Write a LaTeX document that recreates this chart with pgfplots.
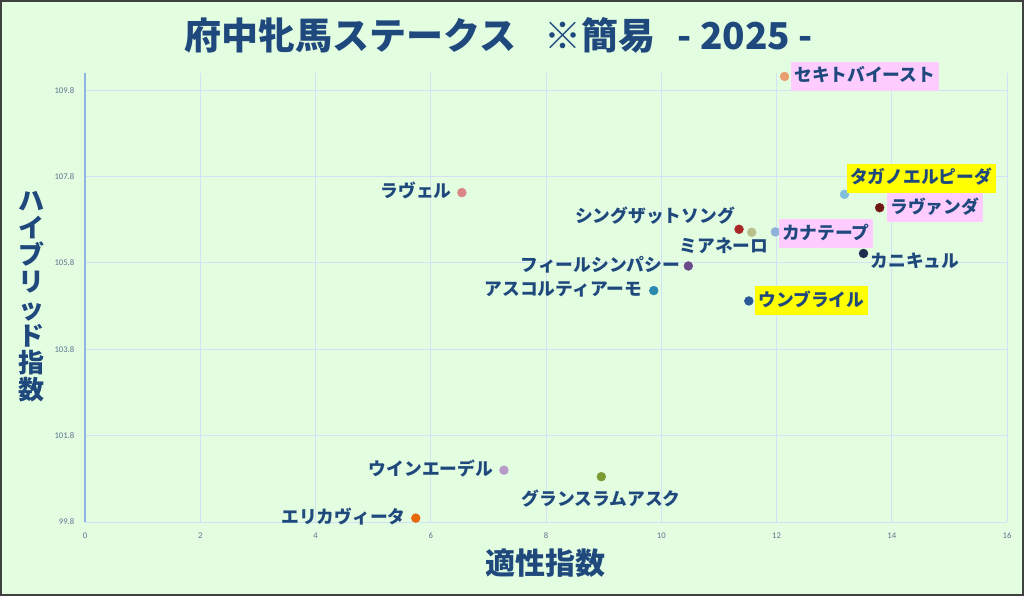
\documentclass[border=0pt]{standalone}
\usepackage{fontspec}
\setmainfont{Noto Sans CJK JP}
\newfontfamily\tickfont{Carlito}
\usepackage{pgfplots}
\pgfplotsset{compat=1.18}

\definecolor{bg}{RGB}{227,253,225}
\definecolor{frame}{RGB}{64,64,64}
\definecolor{gridc}{RGB}{210,225,245}
\definecolor{yaxis}{RGB}{141,180,226}
\definecolor{txt}{RGB}{31,73,125}
\definecolor{tick}{RGB}{95,115,145}
\definecolor{pinkbg}{RGB}{255,204,255}
\definecolor{yelbg}{RGB}{255,255,0}
% dot colours
\definecolor{cSeki}{RGB}{232,160,112}
\definecolor{cTaga}{RGB}{128,192,221}
\definecolor{cLavanda}{RGB}{112,24,24}
\definecolor{cSing}{RGB}{168,40,40}
\definecolor{cMia}{RGB}{185,192,140}
\definecolor{cKana}{RGB}{143,178,218}
\definecolor{cKani}{RGB}{30,45,78}
\definecolor{cFeel}{RGB}{107,74,140}
\definecolor{cAsco}{RGB}{42,138,174}
\definecolor{cUmb}{RGB}{43,90,155}
\definecolor{cRavel}{RGB}{217,133,133}
\definecolor{cWin}{RGB}{183,155,201}
\definecolor{cGrand}{RGB}{123,155,51}
\definecolor{cErika}{RGB}{232,104,14}

\pgfplotsset{
  horse/.style 2 args={only marks, mark=*, mark size=3.3pt, color=#1,
    nodes near coords={#2},
    every node near coord/.append style={font=\bfseries\fontsize{13.3}{15}\selectfont,
      text=txt, inner sep=0pt, text height=10.7pt, text depth=2.6pt}},
  boxed/.style={every node near coord/.append style={fill=#1, inner xsep=2.6pt, inner ysep=4.2pt}},
}

\begin{document}
\begin{tikzpicture}
\fill[bg] (-63.75pt,-55.5pt) rectangle (704.25pt,391.5pt);
\draw[frame, line width=1.5pt] (-63pt,-54.75pt) rectangle (703.5pt,390.75pt);
\begin{axis}[
    at={(0,0)}, anchor=south west,
    scale only axis, width=691.5pt, height=336.75pt,
    xmin=0, xmax=16, ymin=99.8, ymax=110.2,
    xtick={0,2,...,16},
    ytick={99.8,101.8,103.8,105.8,107.8,109.8},
    yticklabel style={xshift=-4.5pt, /pgf/number format/fixed,
      /pgf/number format/fixed zerofill, /pgf/number format/precision=1},
    /pgf/number format/assume math mode=true,
    ticklabel style={font=\tickfont\fontsize{6.5}{7}\selectfont, text=tick},
    xticklabel style={yshift=-4.5pt},
    major tick length=0pt,
    grid=major,
    grid style={gridc, line width=0.7pt},
    axis x line*=bottom, axis y line*=left,
    x axis line style={-, draw=gridc, line width=0.7pt},
    y axis line style={-, draw=yaxis, line width=0.9pt},
    clip=false,
]
\addplot[horse={cSeki}{セキトバイースト}, boxed=pinkbg,
  nodes near coords style={anchor=west, xshift=4.5pt}]
  coordinates {(12.14,110.12)};
\addplot[horse={cTaga}{タガノエルピーダ}, boxed=yelbg,
  nodes near coords style={anchor=south west, xshift=1.5pt, yshift=0.75pt}]
  coordinates {(13.18,107.39)};
\addplot[horse={cLavanda}{ラヴァンダ}, boxed=pinkbg,
  nodes near coords style={anchor=west, xshift=5.25pt}]
  coordinates {(13.79,107.08)};
\addplot[horse={cSing}{シングザットソング},
  nodes near coords style={anchor=east, xshift=-3pt, yshift=9pt}]
  coordinates {(11.35,106.58)};
\addplot[horse={cMia}{ミアネーロ},
  nodes near coords style={anchor=east, xshift=12.75pt, yshift=-11.25pt}]
  coordinates {(11.57,106.51)};
\addplot[horse={cKana}{カナテープ}, boxed=pinkbg,
  nodes near coords style={anchor=west, xshift=2.25pt, yshift=-1.5pt}]
  coordinates {(11.98,106.52)};
\addplot[horse={cKani}{カニキュル},
  nodes near coords style={anchor=west, xshift=5.25pt, yshift=-6.75pt}]
  coordinates {(13.51,106.02)};
\addplot[horse={cFeel}{フィールシンパシー},
  nodes near coords style={anchor=east, xshift=-6pt}]
  coordinates {(10.47,105.73)};
\addplot[horse={cAsco}{アスコルティアーモ},
  nodes near coords style={anchor=east, xshift=-8.5pt}]
  coordinates {(9.87,105.16)};
\addplot[horse={cUmb}{ウンブライル}, boxed=yelbg,
  nodes near coords style={anchor=west, xshift=4.5pt}]
  coordinates {(11.52,104.92)};
\addplot[horse={cRavel}{ラヴェル},
  nodes near coords style={anchor=east, xshift=-7.5pt}]
  coordinates {(6.54,107.43)};
\addplot[horse={cWin}{ウインエーデル},
  nodes near coords style={anchor=east, xshift=-8pt}]
  coordinates {(7.27,101.00)};
\addplot[horse={cGrand}{グランスラムアスク},
  nodes near coords style={anchor=center, yshift=-17.25pt}]
  coordinates {(8.96,100.85)};
\addplot[horse={cErika}{エリカヴィータ},
  nodes near coords style={anchor=east, xshift=-7.5pt}]
  coordinates {(5.74,99.89)};

\node[font=\bfseries\fontsize{27.75}{30}\selectfont, text=txt]
  at (axis description cs:0.449,1.0846) {府中牝馬ステークス\hspace{0.75em}※簡易\hspace{0.6em}- 2025 -};
\node[font=\bfseries\fontsize{22.5}{24}\selectfont, text=txt]
  at (axis description cs:0.499,-0.0913) {適性指数};
\node[font=\bfseries\fontsize{19.5}{20.25}\selectfont, text=txt, align=center]
  at (axis description cs:-0.0575,0.501) {ハ\\イ\\ブ\\リ\\ッ\\ド\\指\\数};
\end{axis}
\pgfresetboundingbox
\path[use as bounding box] (-63.75pt,-55.5pt) rectangle (704.25pt,391.5pt);
\end{tikzpicture}
\end{document}
